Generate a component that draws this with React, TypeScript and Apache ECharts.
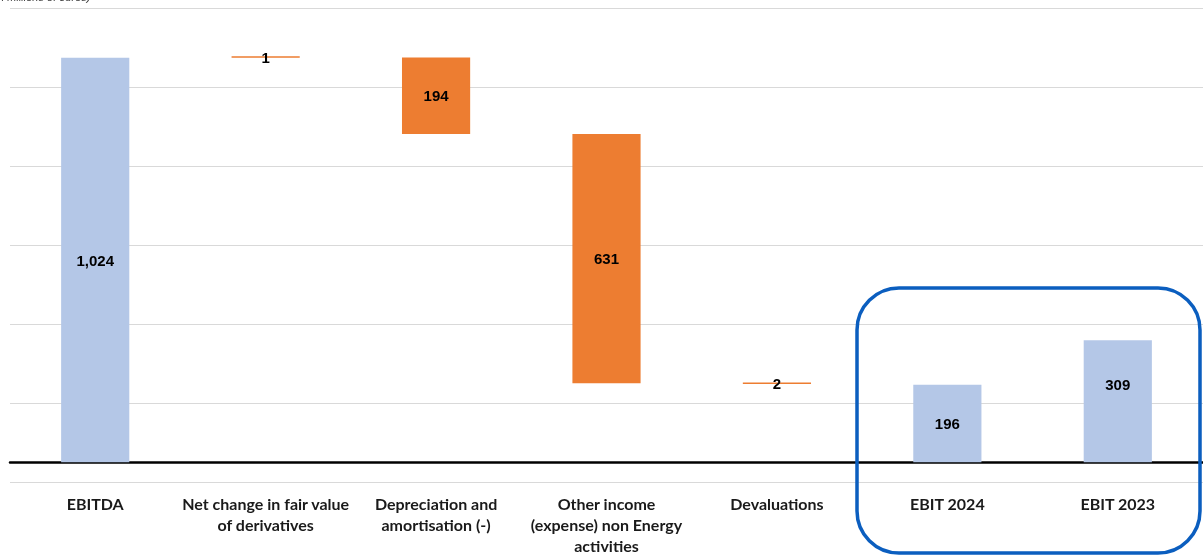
import React, { useEffect, useRef } from "react";
import * as echarts from "echarts";

const categories = [
  "EBITDA",
  "Net change in fair value\nof derivatives",
  "Depreciation and\namortisation (-)",
  "Other income\n(expense) non Energy\nactivities",
  "Devaluations",
  "EBIT 2024",
  "EBIT 2023",
];
const totals: (number | null)[] = [1024, null, null, null, null, 196, 309];
const changes: (number | null)[] = [null, 1, -194, -631, -2, null, null];
const unitNote = "(in millions of euros)";

export default function App() {
  const ref = useRef<HTMLDivElement>(null);
  useEffect(() => {
    if (!ref.current) return;
    const chart = echarts.init(ref.current, undefined, { renderer: "svg" });

    const base: (number | string)[] = [];
    const changeVals: (number | string)[] = [];
    const totalVals: any[] = [];
    let running = 0;
    categories.forEach((_, i) => {
      const t = totals[i];
      const c = changes[i];
      if (t != null) {
        base.push("-");
        changeVals.push("-");
        totalVals.push(
          i === 6
            ? { value: t, label: { offset: [0, -17] } }
            : t
        );
        if (i === 0) running = t;
      } else if (c != null) {
        totalVals.push("-");
        if (c >= 0) {
          base.push(running);
          running += c;
        } else {
          running += c;
          base.push(running);
        }
        changeVals.push(Math.abs(c));
      }
    });

    const labelStyle = {
      show: true,
      position: "inside",
      color: "#000",
      fontFamily: "Liberation Sans, Arial, sans-serif",
      fontWeight: "bold",
      fontSize: 15,
      formatter: (p: any) =>
        typeof p.value === "number" ? p.value.toLocaleString("en-US") : "",
    };

    chart.setOption({
      animation: false,
      grid: {
        left: 10,
        right: 0,
        top: 8,
        bottom: 74,
        containLabel: false,
        outerBoundsMode: "none",
      },
      xAxis: {
        type: "category",
        data: categories,
        axisLine: { onZero: true, lineStyle: { color: "#000", width: 2.5 } },
        axisTick: { show: false },
        axisLabel: {
          interval: 0,
          margin: 11,
          verticalAlign: "top",
          color: "#1a1a1a",
          fontFamily: "Lato, Open Sans, sans-serif",
          fontWeight: "bold",
          fontSize: 16,
          lineHeight: 21,
        },
      },
      yAxis: {
        type: "value",
        min: -50,
        max: 1150,
        interval: 200,
        axisLabel: { show: false },
        axisLine: { show: false },
        axisTick: { show: false },
        splitLine: { lineStyle: { color: "#D9D9D9", width: 1 } },
      },
      series: [
        {
          type: "bar",
          stack: "w",
          data: base,
          barWidth: "40%",
          itemStyle: { color: "transparent" },
          silent: true,
        },
        {
          type: "bar",
          stack: "w",
          data: totalVals,
          barWidth: "40%",
          itemStyle: { color: "#B4C7E7" },
          label: labelStyle,
        },
        {
          type: "bar",
          stack: "w",
          data: changeVals,
          barWidth: "40%",
          barMinHeight: 1.5,
          itemStyle: { color: "#ED7D31" },
          label: labelStyle,
        },
      ],
      graphic: [
        {
          type: "text",
          left: -8,
          top: -9,
          style: {
            text: unitNote,
            font: "italic 11px Liberation Sans, Arial, sans-serif",
            fill: "#404040",
          },
        },
        {
          type: "rect",
          shape: { x: 857, y: 288, width: 343, height: 265, r: 42 },
          style: { fill: "none", stroke: "#0B5EBF", lineWidth: 3.5 },
          z: 100,
        },
      ],
    });
    return () => chart.dispose();
  }, []);
  return (
    <div
      ref={ref}
      style={{ position: "fixed", left: 0, top: 0, width: 1203, height: 556 }}
    />
  );
}
